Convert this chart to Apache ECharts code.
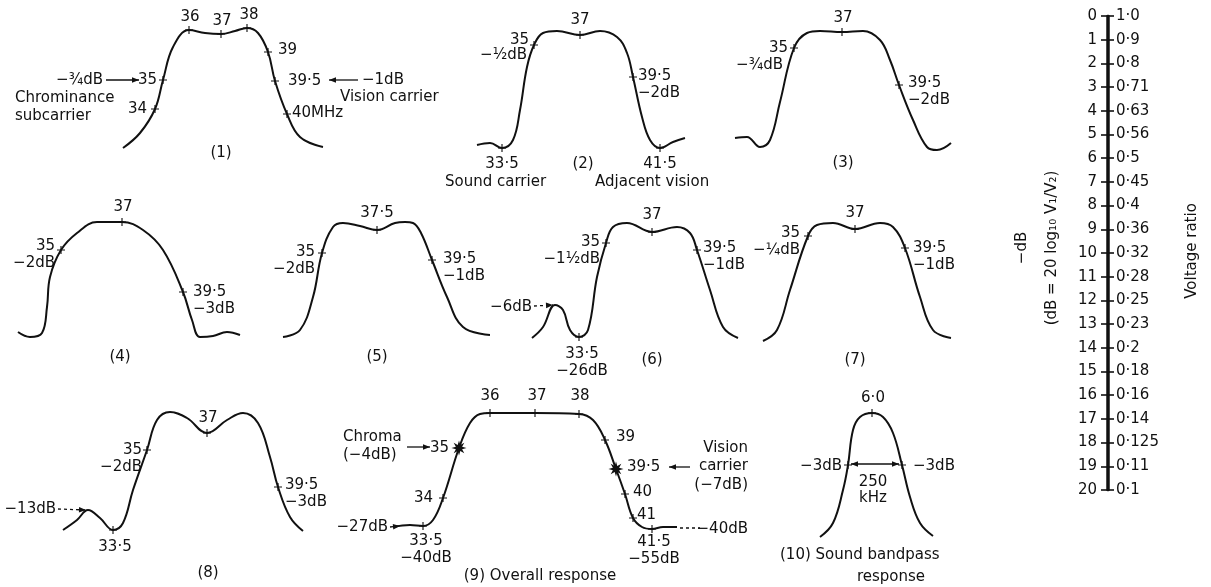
<!DOCTYPE html>
<html>
<head>
<meta charset="utf-8">
<script src="https://cdn.jsdelivr.net/npm/echarts@6/dist/echarts.min.js"></script>
<style>html,body{margin:0;padding:0;background:#fff}#main{width:1211px;height:587px}</style>
</head>
<body>
<div id="main"></div>
<script>
// response curves, local units: x = position across panel, y = relative level
var curve1 = [[3,7],[20,22],[35,46],[43,75],[53,108],[69,125],[85,122],[101,121],[115,124],[127,127],[138,122],[148,103],[155,74],[167,41],[180,18],[203,8]];
var curve2 = [[7,10],[20,12],[32,7],[43,15],[50,45],[57,88],[64,110],[73,122],[87,124],[110,120],[130,124],[147,118],[157,102],[163,78],[172,38],[180,15],[190,7],[203,13],[215,17]];
var curve3 = [[5,17],[17,18],[30,8],[40,15],[50,53],[64,107],[77,122],[90,124],[112,123],[133,124],[150,115],[160,95],[169,70],[183,35],[197,8],[207,5],[221,12]];
var curve4 = [[8,13],[20,8],[32,12],[37,38],[40,68],[51,95],[67,112],[87,123],[112,123],[133,115],[153,95],[173,53],[182,25],[190,8],[203,9],[217,13],[230,10]];
var curve5 = [[8,8],[25,15],[38,48],[47,92],[58,118],[68,122],[85,119],[102,115],[120,122],[130,123],[138,122],[146,112],[157,85],[172,48],[188,18],[215,10]];
var curve6 = [[7,7],[18,18],[30,40],[38,35],[45,15],[54,8],[63,15],[72,68],[81,102],[88,118],[102,122],[127,113],[152,118],[165,112],[172,95],[185,55],[198,18],[213,7]];
var curve7 = [[8,4],[22,15],[35,55],[53,109],[62,120],[78,122],[100,116],[125,122],[138,118],[150,97],[165,48],[178,15],[196,7]];
var curve8 = [[8,10],[22,20],[33,30],[45,22],[58,10],[68,17],[78,50],[92,90],[102,120],[115,128],[132,122],[152,107],[172,120],[188,127],[203,117],[215,83],[223,53],[235,23],[248,9]];
var curve9 = [[8,13],[25,15],[38,14],[48,20],[58,42],[74,92],[85,117],[95,126],[105,127],[150,127],[194,126],[208,120],[220,100],[231,71],[240,46],[248,22],[257,13],[267,11],[278,13],[292,13]];
var curve10 = [[5,3],[18,17],[28,50],[33,75],[38,110],[45,123],[57,127],[68,123],[78,107],[87,75],[95,43],[105,17],[118,4]];

// frequency marks on each curve (MHz, dB)
var ticks1 = [[35,46,'34'],[43,75,'35'],[69,125,'36'],[101,121,'37'],[127,127,'38'],[148,103,'39'],[155,74,'39·5'],[167,41,'40MHz']];
var ticks2 = [[32,7,'33·5'],[64,110,'35'],[110,120,'37'],[163,78,'39·5\n−2dB'],[190,7,'41·5']];
var ticks3 = [[64,107,'35'],[112,123,'37'],[169,70,'39·5\n−2dB']];
var ticks4 = [[51,95,'35\n−2dB'],[112,123,'37'],[173,53,'39·5\n−3dB']];
var ticks5 = [[47,92,'35\n−2dB'],[102,115,'37·5'],[157,85,'39·5\n−1dB']];
var ticks6 = [[54,8,'33·5\n−26dB'],[81,102,'35\n−1½dB'],[127,113,'37'],[172,95,'39·5\n−1dB']];
var ticks7 = [[53,109,'35\n−¼dB'],[100,116,'37'],[150,97,'39·5\n−1dB']];
var ticks8 = [[58,10,'33·5'],[92,90,'35\n−2dB'],[152,107,'37'],[223,53,'39·5\n−3dB']];
var ticks9 = [[38,14,'33·5\n−40dB'],[58,42,'34'],[74,92,'35'],[105,127,'36'],[150,127,'37'],[194,126,'38'],[220,100,'39'],[231,71,'39·5'],[240,46,'40'],[248,22,'41'],[267,11,'41·5\n−55dB']];
var ticks10 = [[33,75,'−3dB'],[57,127,'6·0'],[87,75,'−3dB']];

// dB scale and voltage ratio
var dbTicks = [0,1,2,3,4,5,6,7,8,9,10,11,12,13,14,15,16,17,18,19,20];
var voltRatio = ['1·0','0·9','0·8','0·71','0·63','0·56','0·5','0·45','0·4','0·36','0·32','0·28','0·25','0·23','0·2','0·18','0·16','0·14','0·125','0·11','0·1'];

// layout
var boxes = [[120,20,210,135],[470,20,220,135],[730,20,230,135],[10,210,240,135],[275,210,225,135],[525,210,220,135],[755,210,205,135],[55,400,260,140],[385,400,300,140],[815,400,125,140]];
var places = [
  [[-8,0,'right'],[-6,0,'right'],[1,-13,'center'],[1,-13,'center'],[2,-13,'center'],[10,-2,'left'],[13,0,'left'],[5,-1,'left']],
  [[0,16,'center'],[-5,-5,'right'],[0,-15,'center'],[5,7.5,'left'],[0,16,'center']],
  [[-6,0,'right'],[1,-14,'center'],[9,6.5,'left']],
  [[-6,4.5,'right'],[1,-15,'center'],[10,8.5,'left']],
  [[-7,8,'right'],[0,-17,'center'],[11,8,'left']],
  [[3,26,'center'],[-6,7.5,'right'],[0,-17,'center'],[6,6.5,'left']],
  [[-8,6,'right'],[0,-16,'center'],[8,8.5,'left']],
  [[2,17,'center'],[-5,9,'right'],[1,-15,'center'],[7,7,'left']],
  [[3,23.5,'center'],[-10,0,'right'],[-10,0,'right'],[0,-17,'center'],[2,-17,'center'],[1,-18,'center'],[11,-3,'left'],[11,-2,'left'],[8,-2,'left'],[4,-3,'left'],[2,21.5,'center']],
  [[-6,1,'right'],[1,-15,'center'],[11,1,'left']]
];
var starMarks = [2,7]; // panel 9

var FONT = 'DejaVu Sans';
var INK = '#111';
var plusPath = 'path://M-0.14,-1L0.14,-1L0.14,-0.14L1,-0.14L1,0.14L0.14,0.14L0.14,1L-0.14,1L-0.14,0.14L-1,0.14L-1,-0.14L-0.14,-0.14Z';
var starPath = (function(){
  var s = 'path://';
  for (var k=0;k<16;k++){
    var r = k%2==0 ? 1 : 0.45, a = k*Math.PI/8;
    s += (k==0?'M':'L') + (r*Math.cos(a)).toFixed(3) + ',' + (r*Math.sin(a)).toFixed(3);
  }
  return s+'Z';
})();

function txt(x,y,s,align,rot){
  return {type:'text',x:x,y:y,rotation:rot||0,z:10,
    style:{text:s,textAlign:align||'left',textVerticalAlign:'middle',align:align||'left',verticalAlign:'middle',
      fontSize:15,fontFamily:FONT,fill:INK}};
}
function head(x,y,fx,fy){
  var a=Math.atan2(y-fy,x-fx), l=7, w=2.8;
  var bx=x-l*Math.cos(a), by=y-l*Math.sin(a);
  return {type:'polygon',z:10,shape:{points:[[x,y],[bx+w*Math.sin(a),by-w*Math.cos(a)],[bx-w*Math.sin(a),by+w*Math.cos(a)]]},style:{fill:INK}};
}
function arrow(x1,y1,x2,y2,dash,both,noHead){
  var st={stroke:INK,lineWidth:1.3};
  if(dash) st.lineDash=[3,3];
  var els=[{type:'line',z:10,shape:{x1:x1,y1:y1,x2:x2,y2:y2},style:st}];
  if(!noHead) els.push(head(x2,y2,x1,y1));
  if(both) els.push(head(x1,y1,x2,y2));
  return els;
}

var chart = echarts.init(document.getElementById('main'));
var curves = [curve1,curve2,curve3,curve4,curve5,curve6,curve7,curve8,curve9,curve10];
var ticks = [ticks1,ticks2,ticks3,ticks4,ticks5,ticks6,ticks7,ticks8,ticks9,ticks10];
var grid=[], xAxis=[], yAxis=[], series=[];
for (var i=0;i<curves.length;i++){
  var b=boxes[i];
  grid.push({left:b[0],top:b[1],width:b[2],height:b[3]});
  xAxis.push({type:'value',gridIndex:i,min:0,max:b[2],show:false});
  yAxis.push({type:'value',gridIndex:i,min:0,max:b[3],show:false});
  series.push({type:'line',xAxisIndex:i,yAxisIndex:i,data:curves[i],smooth:0.4,showSymbol:false,silent:true,
    lineStyle:{color:INK,width:2}});
  var pts=[];
  for (var j=0;j<ticks[i].length;j++){
    var t=ticks[i][j], p=places[i][j];
    var star = (i==8 && starMarks.indexOf(j)>=0);
    pts.push({value:[t[0],t[1]],symbol:star?starPath:plusPath,symbolSize:star?15:8,
      label:{show:true,formatter:t[2],position:'inside',offset:[p[0],p[1]],align:p[2],verticalAlign:'middle'}});
  }
  series.push({type:'scatter',xAxisIndex:i,yAxisIndex:i,data:pts,silent:true,z:3,
    itemStyle:{color:INK,opacity:1},
    label:{color:INK,opacity:1,fontSize:15,fontFamily:FONT,lineHeight:17,textBorderWidth:0}});
}

// dB / voltage ratio scale
var gs = curves.length;
grid.push({left:1107,top:16,width:1,height:474});
xAxis.push({type:'value',gridIndex:gs,show:false});
var scaleAxis = {type:'value',gridIndex:gs,inverse:true,min:0,max:20,interval:1,
  axisLine:{show:true,lineStyle:{color:INK,width:2.5}},
  axisTick:{show:true,length:6,lineStyle:{color:INK,width:1.6}},
  splitLine:{show:false},
  axisLabel:{color:INK,fontSize:15,fontFamily:FONT}};
yAxis.push(echarts.util.merge({position:'left',axisLabel:{margin:10,formatter:function(v){return String(dbTicks[v]);}}},scaleAxis,false));
yAxis.push(echarts.util.merge({position:'right',axisLabel:{margin:8,formatter:function(v){return voltRatio[v];}}},scaleAxis,false));
series.push({type:'scatter',xAxisIndex:gs,yAxisIndex:gs,data:[]});

var g = [];
// (1)
g.push(txt(103,80,'−¾dB','right'));
g = g.concat(arrow(106,80,139,80));
g.push(txt(15,98,'Chrominance'));
g.push(txt(15,116,'subcarrier'));
g.push(txt(362,80,'−1dB'));
g = g.concat(arrow(358,80,329,80));
g.push(txt(340,97,'Vision carrier'));
g.push(txt(221,153,'(1)','center'));
// (2)
g.push(txt(527,55,'−½dB','right'));
g.push(txt(583,164,'(2)','center'));
g.push(txt(445,182,'Sound carrier'));
g.push(txt(595,182,'Adjacent vision'));
// (3)
g.push(txt(783,65,'−¾dB','right'));
g.push(txt(843,163,'(3)','center'));
// (4) (5)
g.push(txt(120,357,'(4)','center'));
g.push(txt(377,357,'(5)','center'));
// (6)
g.push(txt(532,307,'−6dB','right'));
g = g.concat(arrow(534,306,553,305,true));
g.push(txt(652,360,'(6)','center'));
// (7)
g.push(txt(855,360,'(7)','center'));
// (8)
g.push(txt(56,509,'−13dB','right'));
g = g.concat(arrow(58,509,86,510,true));
g.push(txt(208,573,'(8)','center'));
// (9)
g.push(txt(343,437,'Chroma'));
g.push(txt(343,455,'(−4dB)'));
g = g.concat(arrow(407,447,430,447));
g.push(txt(388,527,'−27dB','right'));
g = g.concat(arrow(390,527,400,526,true));
g.push(txt(748,448,'Vision','right'));
g.push(txt(748,466,'carrier','right'));
g.push(txt(748,485,'(−7dB)','right'));
g = g.concat(arrow(690,467,669,467));
g.push(txt(748,529,'−40dB','right'));
g = g.concat(arrow(680,528,700,528,true,false,true));
g.push(txt(540,576,'(9) Overall response','center'));
// (10)
g = g.concat(arrow(851,464,899,464,false,true));
g.push(txt(873,482,'250','center'));
g.push(txt(873,498,'kHz','center'));
g.push(txt(780,555,'(10) Sound bandpass'));
g.push(txt(891,577,'response','center'));
// scale titles
g.push(txt(1022,248,'−dB','center',Math.PI/2));
g.push(txt(1052,248,'(dB = 20 log₁₀ V₁/V₂)','center',Math.PI/2));
g.push(txt(1192,251,'Voltage ratio','center',Math.PI/2));

var option = {
  backgroundColor:'#fff',
  animation:false,
  grid:grid, xAxis:xAxis, yAxis:yAxis, series:series,
  graphic:{elements:g}
};
chart.setOption(option);
</script>
</body>
</html>
